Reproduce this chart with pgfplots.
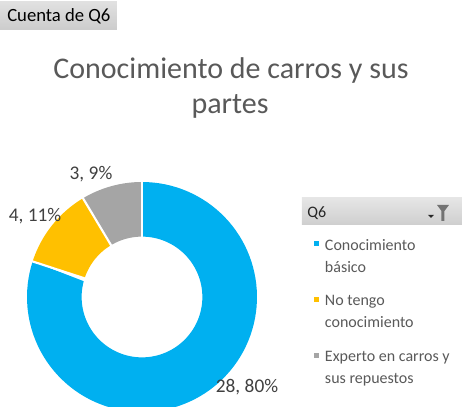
\documentclass[border=0pt]{standalone}
\usepackage{pgfplots}
\pgfplotsset{compat=1.18}
\usepackage{pgfplotstable}
\usepackage{fontspec}
\setmainfont{Carlito}
\definecolor{cblue}{HTML}{00B0F0}
\definecolor{cyellow}{HTML}{FFC000}
\definecolor{cgray}{HTML}{A5A5A5}
\definecolor{txt}{HTML}{595959}
\definecolor{lbl}{HTML}{404040}

\pgfplotstableread{
value
28
4
3
}\slices
\pgfplotstablegetelem{0}{value}\of\slices \let\va\pgfplotsretval
\pgfplotstablegetelem{1}{value}\of\slices \let\vb\pgfplotsretval
\pgfplotstablegetelem{2}{value}\of\slices \let\vc\pgfplotsretval
\pgfmathsetmacro\tot{\va+\vb+\vc}
% spans (degrees) and start angles, clockwise from 12 o'clock
\pgfmathsetmacro\dA{360*\va/\tot}
\pgfmathsetmacro\dB{360*\vb/\tot}
\pgfmathsetmacro\dC{360*\vc/\tot}
\pgfmathsetmacro\sA{90-\dA}
\pgfmathsetmacro\sB{\sA-\dB}
\pgfmathsetmacro\sC{\sB-\dC}
\def\rin{0.525}
\def\ringsamples{0,1,...,100,100.01,101,...,200}

\begin{document}
\begin{tikzpicture}
\begin{scope}[x=0.75pt,y=0.75pt]
\path (0,0) rectangle (462,407);
\shade[top color=white!88!black, bottom color=white!80!black] (0,377) rectangle (117,405);
\node[anchor=base west, inner sep=0, font=\fontsize{14}{16}\selectfont] at (7,385) {Cuenta de Q6};
\node[anchor=base, inner sep=0, text=txt, font=\fontsize{22.5}{27}\selectfont] at (231,328) {Conocimiento de carros y sus};
\node[anchor=base, inner sep=0, text=txt, font=\fontsize{22.5}{27}\selectfont] at (230,293) {partes};
\end{scope}
\begin{axis}[at={(3pt,0pt)}, anchor=south west, scale only axis,
  width=207pt, height=186pt, xmin=-1.2, xmax=1.2, ymin=-0.9565, ymax=1.2,
  hide axis, clip=true,
  declare function={rr(\t)=(\t<=100)?1:\rin; aa(\t,\s,\d)=(\s)+(\d)*min(\t,200-\t)/100;},
  legend style={at={(1.1232,0.695)}, anchor=north west, draw=none, fill=none,
    inner sep=0pt, outer sep=0pt, column sep=4.5pt, row sep=12.4pt,
    font=\fontsize{12}{16.5}\selectfont, text=txt,
    cells={anchor=west}, nodes={inner sep=0pt, align=left}},
  legend image code/.code={\path[#1] (0pt,5.9pt) rectangle (3.75pt,9.65pt);}]
\addplot[fill=cblue, draw=none, samples at=\ringsamples, forget plot]
  ({rr(x)*cos(aa(x,\sA,\dA))},{rr(x)*sin(aa(x,\sA,\dA))});
\addplot[fill=cyellow, draw=none, samples at=\ringsamples, forget plot]
  ({rr(x)*cos(aa(x,\sB,\dB))},{rr(x)*sin(aa(x,\sB,\dB))});
\addplot[fill=cgray, draw=none, samples at=\ringsamples, forget plot]
  ({rr(x)*cos(aa(x,\sC,\dC))},{rr(x)*sin(aa(x,\sC,\dC))});
% white separators between slices
\addplot[white, line width=1.6pt, samples at={0.45,1.05}, forget plot] ({x*cos(90)},{x*sin(90)});
\addplot[white, line width=1.6pt, samples at={0.45,1.05}, forget plot] ({x*cos(\sA)},{x*sin(\sA)});
\addplot[white, line width=1.6pt, samples at={0.45,1.05}, forget plot] ({x*cos(\sB)},{x*sin(\sB)});
\addlegendimage{fill=cblue, draw=none}
\addlegendentry{\strut Conocimiento\\\strut básico}
\addlegendimage{fill=cyellow, draw=none}
\addlegendentry{\strut No tengo\\\strut conocimiento}
\addlegendimage{fill=cgray, draw=none}
\addlegendentry{\strut Experto en carros y\\\strut sus repuestos}
\end{axis}
\begin{scope}[x=0.75pt,y=0.75pt]
\node[anchor=base, inner sep=0, text=lbl, font=\fontsize{14.5}{17}\selectfont] at (91,227) {3, 9\%};
\node[anchor=base, inner sep=0, text=lbl, font=\fontsize{14.5}{17}\selectfont] at (35,185) {4, 11\%};
\node[anchor=base, inner sep=0, text=lbl, font=\fontsize{14.5}{17}\selectfont] at (247,14) {28, 80\%};
\shade[top color=white!90!black, bottom color=white!81!black] (302,182) rectangle (462,209);
\node[anchor=base west, inner sep=0, text=black!85, font=\fontsize{12}{14}\selectfont] at (307,189) {Q6};
\fill[black!85] (428,192) -- (434,192) -- (431,189) -- cycle;
\fill[black!55] (437,202) -- (449,202) -- (444.5,196) -- (444.5,186) -- (441.5,186) -- (441.5,196) -- cycle;
\end{scope}
\end{tikzpicture}
\end{document}
